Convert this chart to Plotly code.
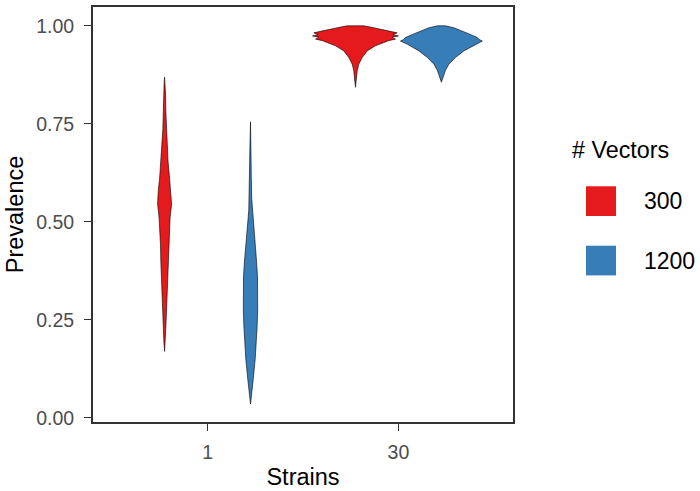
import plotly.graph_objects as go

# ---------------- data ----------------
strains = ["1", "30"]
vectors = ["300", "1200"]
colors = {"300": "#E41A1C", "1200": "#377EB8"}

# scaled density profiles (1.0 = widest violin) along prevalence
s1_v300_prev = [0.169, 0.20, 0.232, 0.27, 0.318, 0.36, 0.40, 0.44, 0.47, 0.51, 0.545,
                0.58, 0.611, 0.654, 0.70, 0.737, 0.78, 0.823, 0.85, 0.869]
s1_v300_dens = [0.0, 0.019, 0.03, 0.044, 0.058, 0.07, 0.088, 0.095, 0.10, 0.128, 0.163,
                0.147, 0.116, 0.081, 0.058, 0.04, 0.03, 0.023, 0.012, 0.0]

s1_v1200_prev = [0.035, 0.066, 0.10, 0.149, 0.19, 0.23, 0.275, 0.32, 0.36, 0.40, 0.444,
                 0.48, 0.503, 0.53, 0.56, 0.611, 0.697, 0.755]
s1_v1200_dens = [0.0, 0.035, 0.065, 0.109, 0.135, 0.153, 0.167, 0.17, 0.163, 0.14, 0.112,
                 0.081, 0.06, 0.04, 0.028, 0.019, 0.012, 0.0]

s30_v300_prev = [0.843, 0.865, 0.886, 0.902, 0.919, 0.936, 0.949, 0.957, 0.962, 0.966,
                 0.971, 0.974, 0.978, 0.982, 0.986, 0.990, 0.995, 1.0]
s30_v300_dens = [0.0, 0.023, 0.04, 0.077, 0.156, 0.272, 0.465, 0.651, 0.767, 0.93,
                 0.853, 1.0, 0.872, 0.97, 0.814, 0.698, 0.426, 0.193]

s30_v1200_prev = [0.856, 0.873, 0.886, 0.902, 0.919, 0.936, 0.944, 0.953, 0.957, 0.961,
                  0.965, 0.970, 0.978, 0.987, 0.995, 1.0]
s30_v1200_dens = [0.0, 0.047, 0.093, 0.174, 0.326, 0.523, 0.651, 0.791, 0.87, 0.953,
                  0.88, 0.837, 0.674, 0.488, 0.291, 0.093]

profiles = {
    ("1", "300"): (s1_v300_prev, s1_v300_dens),
    ("1", "1200"): (s1_v1200_prev, s1_v1200_dens),
    ("30", "300"): (s30_v300_prev, s30_v300_dens),
    ("30", "1200"): (s30_v1200_prev, s30_v1200_dens),
}

y_ticks = [0.0, 0.25, 0.5, 0.75, 1.0]
y_ticklabels = ["0.00", "0.25", "0.50", "0.75", "1.00"]

# ---------------- figure ----------------
W, H = 700, 491
ML, MR, MT, MB = 93, 187, 5, 67
dodge = 0.45          # distance between group centres (ggplot dodge width 0.9 / 2)
half_max = 0.225      # half width of widest violin

fig = go.Figure()
for i, s in enumerate(strains):
    for j, g in enumerate(vectors):
        prev, dens = profiles[(s, g)]
        c = (i + 1) + (j - 0.5) * dodge
        xr = [c + d * half_max for d in dens]
        xl = [c - d * half_max for d in dens][::-1]
        fig.add_trace(go.Scatter(
            x=xr + xl + [xr[0]],
            y=list(prev) + list(prev)[::-1] + [prev[0]],
            mode="lines", fill="toself", fillcolor=colors[g],
            line=dict(color="black", width=0.6),
            name=g, legendgroup=g, showlegend=False, hoverinfo="skip",
        ))

font_family = "Liberation Sans, Arial, sans-serif"
axis_common = dict(
    showline=True, mirror=True, linecolor="#333333", linewidth=1.8,
    ticks="outside", ticklen=7, tickwidth=1, tickcolor="#333333",
    showgrid=False, zeroline=False,
    tickfont=dict(size=19.5, color="#4D4D4D", family=font_family),
)
fig.update_layout(
    width=W, height=H,
    margin=dict(l=ML, r=MR, t=MT, b=MB),
    paper_bgcolor="white", plot_bgcolor="white",
    font=dict(family=font_family, color="black"),
    showlegend=False,
    xaxis=dict(range=[0.4, 2.6], tickvals=[1, 2], ticktext=strains,
               ticklabelstandoff=5,
               title=dict(text="Strains", font=dict(size=23.5, color="black"), standoff=6),
               **axis_common),
    yaxis=dict(range=[-0.011, 1.048], tickvals=y_ticks, ticktext=y_ticklabels,
               ticklabelstandoff=6,
               title=dict(text="Prevalence", font=dict(size=23.5, color="black"), standoff=6),
               **axis_common),
)

# manual legend (ggplot style, large square keys)
pw = W - ML - MR
ph = H - MT - MB
def px(xp):
    return (xp - ML) / pw
def py(yp):
    return (H - MB - yp) / ph

fig.add_annotation(text="# Vectors", xref="paper", yref="paper", x=px(570), y=py(149),
                   xanchor="left", yanchor="middle", showarrow=False,
                   font=dict(size=23.3, color="black", family=font_family))
key_tops = [186, 246]
for g, top in zip(vectors, key_tops):
    fig.add_shape(type="rect", xref="paper", yref="paper",
                  x0=px(586), x1=px(616), y0=py(top), y1=py(top + 30),
                  fillcolor=colors[g], line=dict(width=0))
    fig.add_annotation(text=g, xref="paper", yref="paper", x=px(642), y=py(top + 15),
                       xanchor="left", yanchor="middle", showarrow=False,
                       font=dict(size=23, color="black", family=font_family))

fig.write_html("out.html", config={"displayModeBar": False},
               post_script="document.body.style.margin='0';document.body.style.overflow='hidden';")
